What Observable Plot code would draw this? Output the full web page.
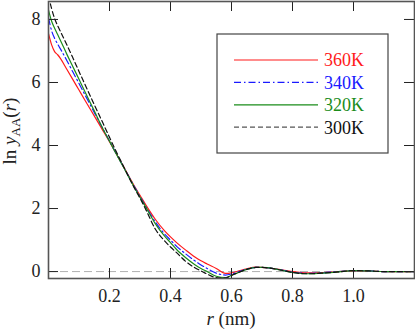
<!DOCTYPE html>
<html><head><meta charset="utf-8">
<script src="https://cdn.jsdelivr.net/npm/d3@7"></script>
<script src="https://cdn.jsdelivr.net/npm/@observablehq/plot@0.6"></script>
<style>body{margin:0;background:#fff} #chart{width:415px;height:332px}</style>
</head><body><div id="chart"></div>
<script>
const r = [0, 0.01, 0.02, 0.03, 0.04, 0.06, 0.08, 0.1, 0.12, 0.15, 0.18, 0.2, 0.22, 0.25, 0.28, 0.3, 0.32, 0.35, 0.38, 0.4, 0.42, 0.45, 0.48, 0.5, 0.52, 0.55, 0.58, 0.6, 0.62, 0.65, 0.68, 0.7, 0.75, 0.8, 0.85, 0.9, 0.95, 1.0, 1.05, 1.1, 1.15, 1.2];
const y360 = [7.55, 7.2, 6.98, 6.88, 6.75, 6.42, 6.09, 5.76, 5.43, 4.94, 4.45, 4.12, 3.78, 3.26, 2.74, 2.42, 2.1, 1.66, 1.3, 1.1, 0.92, 0.68, 0.46, 0.34, 0.24, 0.1, -0.06, -0.04, 0.01, 0.09, 0.14, 0.13, 0.08, 0.0, -0.04, -0.03, 0.0, 0.02, 0.02, 0.0, 0.0, 0.0];
const y340 = [8.05, 7.65, 7.4, 7.22, 7.05, 6.7, 6.33, 5.97, 5.6, 5.05, 4.5, 4.14, 3.78, 3.25, 2.72, 2.38, 2.05, 1.58, 1.2, 1.0, 0.8, 0.56, 0.34, 0.21, 0.1, -0.05, -0.11, -0.08, -0.02, 0.08, 0.13, 0.13, 0.07, -0.02, -0.06, -0.04, 0.0, 0.03, 0.02, 0.0, 0.0, 0.0];
const y320 = [8.3, 7.95, 7.72, 7.52, 7.32, 6.9, 6.5, 6.1, 5.7, 5.1, 4.5, 4.14, 3.77, 3.24, 2.7, 2.36, 2.03, 1.52, 1.13, 0.92, 0.7, 0.44, 0.22, 0.1, 0.0, -0.15, -0.19, -0.12, -0.04, 0.07, 0.13, 0.13, 0.07, -0.03, -0.07, -0.05, -0.01, 0.03, 0.02, 0.0, 0.0, 0.0];
const y300 = [8.75, 8.35, 8.03, 7.8, 7.6, 7.2, 6.78, 6.35, 5.93, 5.3, 4.68, 4.26, 3.85, 3.26, 2.68, 2.33, 1.95, 1.35, 0.98, 0.78, 0.6, 0.32, 0.12, 0.02, -0.08, -0.19, -0.2, -0.12, -0.04, 0.07, 0.13, 0.13, 0.07, -0.03, -0.07, -0.05, -0.01, 0.03, 0.02, 0.0, 0.0, 0.0];
const series = ["360K", "340K", "320K", "300K"];
const xTicks = [0.2, 0.4, 0.6, 0.8, 1.0];
const yTicks = [0, 2, 4, 6, 8];

const values = [y360, y340, y320, y300];
const colors = ["#ff1a1a", "#1a1aff", "#1a8c1a", "#111111"];
const dashes = [null, "7,3,1.5,3", null, "5,3"];
const rows = series.flatMap((s, i) => r.map((rr, j) => ({r: rr, v: values[i][j], s})));
const FONT = "'Liberation Serif', 'DejaVu Serif', serif";

const plot = Plot.plot({
  width: 415, height: 332,
  marginLeft: 48, marginRight: 1, marginTop: 1, marginBottom: 54,
  style: {fontFamily: FONT, fontSize: "18px", background: "white", color: "#222"},
  x: {domain: [0, 1.2]},
  y: {domain: [-0.22, 8.57]},
  marks: [
    Plot.ruleY([0], {stroke: "#b0b0b0", strokeDasharray: "8,4", strokeWidth: 1}),
    ...series.map((s, i) => Plot.line(rows.filter(d => d.s === s), {
      x: "r", y: "v", stroke: colors[i], strokeWidth: 1.2,
      strokeDasharray: dashes[i], curve: "monotone-x", clip: true
    })),
    Plot.tickX(xTicks, {x: d => d, insetTop: 267, stroke: "#222"}),
    Plot.tickX(xTicks, {x: d => d, insetBottom: 267, stroke: "#222"}),
    Plot.tickY(yTicks, {y: d => d, insetRight: 356, stroke: "#222"}),
    Plot.tickY(yTicks, {y: d => d, insetLeft: 356, stroke: "#222"}),
    Plot.axisX(xTicks, {tickSize: 0, tickPadding: 11, tickFormat: d3.format(".1f"), label: null, fontSize: 18}),
    Plot.axisY(yTicks, {tickSize: 0, tickPadding: 8, label: null, fontSize: 18}),
    Plot.frame({stroke: "#555", strokeWidth: 1.6})
  ]
});
document.getElementById("chart").appendChild(plot);

const svg = d3.select(plot);
// x label
const xl = svg.append("text").attr("x", 231).attr("y", 325).attr("text-anchor", "middle")
  .style("font-family", FONT).attr("font-size", 19).attr("fill", "#222");
xl.append("tspan").attr("font-style", "italic").text("r");
xl.append("tspan").text(" (nm)");
// y label
const yl = svg.append("text").attr("transform", "translate(16,131) rotate(-90)").attr("text-anchor", "middle")
  .style("font-family", FONT).attr("font-size", 19).attr("fill", "#222");
yl.append("tspan").text("ln ");
yl.append("tspan").attr("font-style", "italic").text("y");
yl.append("tspan").attr("font-size", 13).attr("dy", 4).text("AA");
yl.append("tspan").attr("dy", -4).text("(");
yl.append("tspan").attr("font-style", "italic").text("r");
yl.append("tspan").text(")");
// legend
const lg = svg.append("g");
lg.append("rect").attr("x", 217).attr("y", 34).attr("width", 171).attr("height", 119)
  .attr("fill", "white").attr("stroke", "#444").attr("stroke-width", 1.2);
series.forEach((s, i) => {
  const yy = 60 + i * 22.4;
  lg.append("line").attr("x1", 234).attr("x2", 318).attr("y1", yy).attr("y2", yy)
    .attr("stroke", i === 3 ? "#555" : colors[i]).attr("stroke-width", 1.2)
    .attr("stroke-dasharray", dashes[i]);
  lg.append("text").attr("x", 324).attr("y", yy).attr("dy", "0.35em").attr("text-anchor", "start")
    .style("font-family", FONT).attr("font-size", 18)
    .attr("fill", i === 3 ? "#111" : colors[i]).text(s);
});
</script>
</body></html>
